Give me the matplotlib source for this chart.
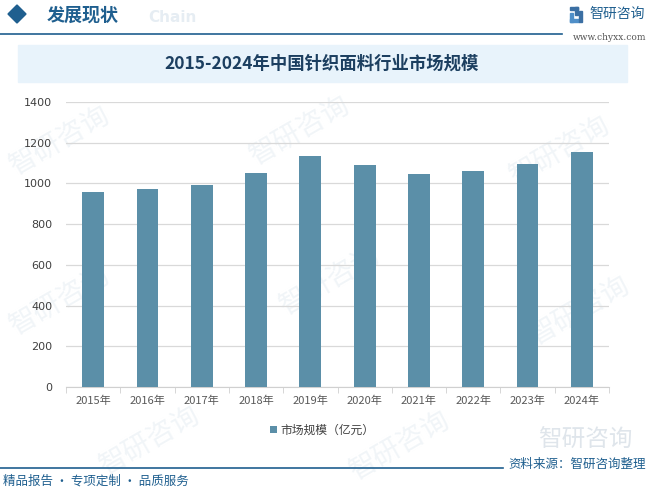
import matplotlib.pyplot as plt
from matplotlib.patches import Rectangle, Polygon
from matplotlib.lines import Line2D

plt.rcParams['font.family'] = ['Noto Sans CJK SC', 'DejaVu Sans']

years = ['2015年', '2016年', '2017年', '2018年', '2019年',
         '2020年', '2021年', '2022年', '2023年', '2024年']
market_size = [958, 973, 993, 1052, 1136, 1092, 1048, 1063, 1097, 1156]
yticks = [0, 200, 400, 600, 800, 1000, 1200, 1400]

bar_color = '#5b8fa8'
blue = '#1f5f8f'
W, H = 649, 492

fig = plt.figure(figsize=(6.49, 4.92), dpi=100)


def fx(px):
    return px / W


def fy(py):
    return 1 - py / H


# faint watermarks, behind the chart
for (x, y) in [(60, 140), (300, 130), (560, 150), (60, 300), (330, 280),
               (580, 310), (150, 440), (400, 445)]:
    fig.text(fx(x), fy(y), '智研咨询', fontsize=20, color='#f1f5f8',
             rotation=30, ha='center', va='center', zorder=-1)

# header
fig.patches.append(Polygon([[fx(8), fy(14)], [fx(17), fy(5)], [fx(26), fy(14)],
                            [fx(17), fy(23)]], closed=True, transform=fig.transFigure,
                           color=blue))
fig.text(fx(148), fy(17), 'Chain', fontsize=11, color='#e6edf3',
         fontweight='bold', va='center', family='DejaVu Sans')
fig.text(fx(47), fy(15), '发展现状', fontsize=13, color=blue,
         fontweight='bold', va='center')
fig.add_artist(Line2D([0, fx(562)], [fy(34), fy(34)], color=blue, lw=1.2))
fig.text(fx(645), fy(14), '智研咨询', fontsize=10, color=blue,
         ha='right', va='center')
# small logo mark
for (x0, y0, w, h, c) in [(570, 7, 8, 3, '#3b6fa3'), (575, 7, 3, 8, '#3b6fa3'),
                          (570, 13, 3, 9, '#4f8fc8'), (570, 19, 9, 3, '#4f8fc8'),
                          (579, 11, 3, 11, '#3b6fa3')]:
    fig.patches.append(Rectangle((fx(x0), fy(y0 + h)), w / W, h / H,
                                 transform=fig.transFigure, color=c))
fig.text(fx(646), fy(37), 'www.chyxx.com', fontsize=6.5, color='#555555',
         ha='right', va='center', family='DejaVu Serif')

# title box
fig.patches.append(Rectangle((fx(18), fy(82)), fx(609), 37 / H,
                             transform=fig.transFigure, color='#e8f3fb', zorder=0))
fig.text(fx(322), fy(64), '2015-2024年中国针织面料行业市场规模', fontsize=12.5,
         color='#1c3f60', fontweight='bold', ha='center', va='center')

# chart
ax = fig.add_axes([fx(66), fy(387), (609 - 66) / W, (387 - 102) / H])
x = range(len(years))
ax.bar(x, market_size, width=0.4, color=bar_color, zorder=3,
       label='市场规模（亿元）')
ax.set_xlim(-0.5, len(years) - 0.5)
ax.set_ylim(0, 1400)
ax.set_yticks(yticks)
ax.set_yticklabels([str(v) for v in yticks], fontsize=8, color='#404040',
                   family='DejaVu Sans')
ax.set_xticks(list(x))
ax.set_xticklabels(years, fontsize=8, color='#595959')
ax.set_xticks([i - 0.5 for i in range(len(years) + 1)], minor=True)
ax.tick_params(axis='x', which='major', length=0, pad=6)
ax.tick_params(axis='x', which='minor', length=4, color='#d0d0d0')
ax.tick_params(axis='y', length=0, pad=10)
ax.grid(axis='y', color='#d9d9d9', lw=0.9, zorder=0)
for s in ['top', 'right', 'left']:
    ax.spines[s].set_visible(False)
ax.spines['bottom'].set_color('#d0d0d0')
ax.patch.set_alpha(0)

leg = fig.legend(loc='center', bbox_to_anchor=(fx(322), fy(430)), frameon=False,
                 fontsize=8.5, handlelength=0.6, handleheight=0.6,
                 handletextpad=0.3)
for t in leg.get_texts():
    t.set_color('#404040')

# footer
fig.add_artist(Line2D([0, fx(503)], [fy(468), fy(468)], color=blue, lw=1.2))
fig.text(fx(538), fy(440), '智研咨询', fontsize=17, color='#dfe5eb',
         ha='left', va='center', zorder=-1)
fig.text(fx(646), fy(464), '资料来源：智研咨询整理', fontsize=9, color=blue,
         ha='right', va='center')
fig.text(fx(3), fy(481), '精品报告 · 专项定制 · 品质服务', fontsize=9, color=blue,
         ha='left', va='center')

fig.savefig('out.png', dpi=100)
